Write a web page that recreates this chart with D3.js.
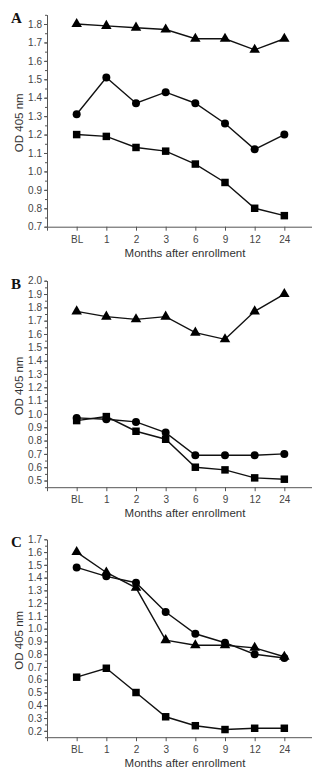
<!DOCTYPE html>
<html>
<head>
<meta charset="utf-8">
<script src="https://cdn.jsdelivr.net/npm/d3@7"></script>
<style>
  body { margin: 0; background: #fff; }
  svg { display: block; }
  .axis text { font-family: "Liberation Sans", Arial, sans-serif; font-size: 10px; fill: #444; }
  .axis path, .axis line { stroke: #555; stroke-width: 1; }
  .title { font-family: "Liberation Sans", Arial, sans-serif; font-size: 11.5px; fill: #333; }
  .letter { font-family: "Liberation Serif", "Times New Roman", serif; font-size: 15px; font-weight: bold; fill: #111; }
</style>
</head>
<body>
<svg id="chart" width="312" height="768"></svg>
<script>
// categories on the x axis
var months = ["BL", "1", "2", "3", "6", "9", "12", "24"];

// panel A
var aTriangle = [1.80, 1.79, 1.78, 1.77, 1.72, 1.72, 1.66, 1.72];
var aCircle   = [1.31, 1.51, 1.37, 1.43, 1.37, 1.26, 1.12, 1.20];
var aSquare   = [1.20, 1.19, 1.13, 1.11, 1.04, 0.94, 0.80, 0.76];
var aTicks    = [0.7, 0.8, 0.9, 1.0, 1.1, 1.2, 1.3, 1.4, 1.5, 1.6, 1.7, 1.8];

// panel B
var bTriangle = [1.77, 1.73, 1.71, 1.73, 1.61, 1.56, 1.77, 1.90];
var bCircle   = [0.97, 0.96, 0.94, 0.86, 0.69, 0.69, 0.69, 0.70];
var bSquare   = [0.95, 0.98, 0.87, 0.81, 0.60, 0.58, 0.52, 0.51];
var bTicks    = [0.5, 0.6, 0.7, 0.8, 0.9, 1.0, 1.1, 1.2, 1.3, 1.4, 1.5, 1.6, 1.7, 1.8, 1.9, 2.0];

// panel C
var cTriangle = [1.60, 1.44, 1.32, 0.91, 0.87, 0.87, 0.85, 0.78];
var cCircle   = [1.48, 1.41, 1.36, 1.13, 0.96, 0.89, 0.80, 0.77];
var cSquare   = [0.62, 0.69, 0.50, 0.31, 0.24, 0.21, 0.22, 0.22];
var cTicks    = [0.2, 0.3, 0.4, 0.5, 0.6, 0.7, 0.8, 0.9, 1.0, 1.1, 1.2, 1.3, 1.4, 1.5, 1.6, 1.7];

var panels = [
  { letter: "A", domain: [0.7, 1.85], top: 14.8, bottom: 226.7, ticks: aTicks,
    series: [["triangle", aTriangle], ["circle", aCircle], ["square", aSquare]] },
  { letter: "B", domain: [0.45, 2.0], top: 280.7, bottom: 487.2, ticks: bTicks,
    series: [["triangle", bTriangle], ["circle", bCircle], ["square", bSquare]] },
  { letter: "C", domain: [0.15, 1.7], top: 539.3, bottom: 737.2, ticks: cTicks,
    series: [["triangle", cTriangle], ["circle", cCircle], ["square", cSquare]] }
];

var left = 47, right = 314;
var svg = d3.select("#chart");

var x = d3.scalePoint().domain(months).range([left, right]).padding(1);

var symbols = {
  triangle: d3.symbol().type(d3.symbolTriangle).size(48),
  circle: d3.symbol().type(d3.symbolCircle).size(50),
  square: d3.symbol().type(d3.symbolSquare).size(56)
};

panels.forEach(function(p) {
  var y = d3.scaleLinear().domain(p.domain).range([p.bottom, p.top]);
  var g = svg.append("g");

  // minor y ticks every 0.05
  var minor = d3.range(Math.round(p.domain[0] * 20), Math.round(p.domain[1] * 20) + 1).map(function(d) { return d / 20; });
  g.append("g")
    .attr("class", "axis")
    .attr("transform", "translate(" + left + ",0)")
    .call(d3.axisLeft(y).tickValues(minor).tickSize(2).tickSizeOuter(0).tickFormat(""));

  g.append("g")
    .attr("class", "axis")
    .attr("transform", "translate(" + left + ",0)")
    .call(d3.axisLeft(y).tickValues(p.ticks).tickSize(3).tickSizeOuter(0).tickPadding(2).tickFormat(d3.format(".1f")));

  g.append("g")
    .attr("class", "axis")
    .attr("transform", "translate(0," + p.bottom + ")")
    .call(d3.axisBottom(x).tickSize(4).tickSizeOuter(4).tickPadding(5));

  g.append("text")
    .attr("class", "title")
    .attr("x", 185)
    .attr("y", p.bottom + 30)
    .attr("text-anchor", "middle")
    .text("Months after enrollment");

  g.append("text")
    .attr("class", "title")
    .attr("transform", "translate(23," + ((p.top + p.bottom) / 2 + 2) + ") rotate(-90)")
    .attr("text-anchor", "middle")
    .text("OD 405 nm");

  g.append("text")
    .attr("class", "letter")
    .attr("x", 11)
    .attr("y", p.top + 8)
    .text(p.letter);

  var line = d3.line()
    .x(function(d, i) { return x(months[i]); })
    .y(function(d) { return y(d); });

  p.series.forEach(function(s) {
    g.append("path")
      .datum(s[1])
      .attr("d", line)
      .attr("fill", "none")
      .attr("stroke", "#111")
      .attr("stroke-width", 1.4);

    g.selectAll(null)
      .data(s[1])
      .enter().append("path")
      .attr("d", symbols[s[0]])
      .attr("transform", function(d, i) { return "translate(" + x(months[i]) + "," + y(d) + ")"; })
      .attr("fill", "#000");
  });
});
</script>
</body>
</html>
